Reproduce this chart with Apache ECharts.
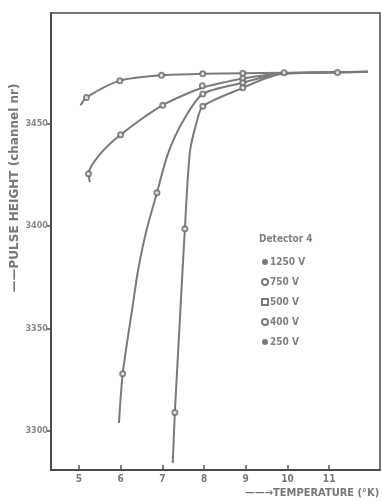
<!DOCTYPE html>
<html>
<head>
<meta charset="utf-8">
<script src="https://cdn.jsdelivr.net/npm/echarts@6/dist/echarts.min.js"></script>
<style>
html,body{margin:0;padding:0;background:#fff;}
#c{width:382px;height:502px;}
</style>
</head>
<body>
<div id="c"></div>
<script>
// Tick labels
const xTicks = [5, 6, 7, 8, 9, 10, 11];
const yTicks = [3300, 3350, 3400, 3450];
const seriesNames = ['1250 V', '750 V', '500 V', '400 V', '250 V'];

// Measured points [temperature K, pulse height]
const meas1250 = [[5.18, 3462.8], [5.98, 3471], [6.98, 3473.6], [7.97, 3474.3], [8.93, 3474.6], [9.92, 3474.8], [11.2, 3475]];
const meas750 = [[5.23, 3425.5], [6.0, 3444.6], [7.01, 3459], [7.96, 3468.5], [8.93, 3472]];
const meas500 = [[6.05, 3328], [6.87, 3416.3], [7.97, 3464.5], [8.93, 3470]];
const meas400 = [];
const meas250 = [[7.30, 3309], [7.54, 3398.7], [7.97, 3458.5], [8.93, 3467.5]];

// Drawn curve paths
const curve1250 = [[5.04, 3459], [5.18, 3462.8], [5.98, 3471], [6.98, 3473.6], [7.97, 3474.3], [8.93, 3474.6], [9.92, 3474.8], [11.2, 3475], [11.93, 3475.3]];
const curve750 = [[5.26, 3421.5], [5.23, 3425.5], [5.5, 3435], [6.0, 3444.6], [7.01, 3459], [7.96, 3467.5], [8.93, 3472], [9.5, 3473.8], [9.92, 3474.5], [11.93, 3475.3]];
const curve500 = [[5.96, 3304], [6.05, 3328], [6.3, 3362.6], [6.42, 3378.7], [6.62, 3398], [6.87, 3416.3], [7.13, 3435], [7.49, 3451], [7.97, 3464.5], [8.93, 3470], [9.5, 3473], [9.92, 3474.5], [11.93, 3475.3]];
const curve400 = [];
const curve250 = [[7.25, 3284.4], [7.30, 3309], [7.42, 3354], [7.54, 3398.7], [7.66, 3436], [7.82, 3450.5], [7.97, 3458.5], [8.93, 3467.5], [9.5, 3472.3], [9.92, 3474.5], [11.93, 3475.3]];

const curves = [curve1250, curve750, curve500, curve400, curve250];
const meas = [meas1250, meas750, meas500, meas400, meas250];
const symbols = ['circle', 'emptyCircle', 'emptyRect', 'emptyCircle', 'circle'];
const gray = '#7a7a7a';
const font = 'DejaVu Sans Condensed, DejaVu Sans, sans-serif';

const series = [];
seriesNames.forEach((n, i) => {
  series.push({
    name: n, type: 'line', data: curves[i], smooth: 0.25, showSymbol: false,
    lineStyle: { color: gray, width: 2 }, itemStyle: { color: gray }, z: 2, silent: true
  });
  series.push({
    name: n, type: 'scatter', data: meas[i], symbol: 'emptyCircle', symbolSize: 5,
    itemStyle: { color: '#6a6a6a', borderWidth: 1.5 }, z: 3
  });
});

const chart = echarts.init(document.getElementById('c'));
chart.setOption({
  backgroundColor: '#fff',
  animation: false,
  textStyle: { fontFamily: font },
  title: {
    text: 'Detector 4', left: 254, top: 229,
    textStyle: { fontSize: 10, fontWeight: 'bold', color: '#808080', fontFamily: font }
  },
  legend: {
    orient: 'vertical', left: 256, top: 252, itemGap: 10, itemWidth: 6, itemHeight: 6,
    textStyle: { fontSize: 10, fontWeight: 'bold', color: '#808080', fontFamily: font, padding: [0, 0, 0, -3] },
    data: seriesNames.map((n, i) => ({ name: n, icon: symbols[i], itemStyle: { color: gray, borderColor: gray } })),
    selectedMode: false
  },
  grid: { left: 51, right: 2, top: 13, bottom: 32, show: true, borderColor: '#4a4a4a', borderWidth: 1.5 },
  xAxis: {
    type: 'value', min: 4.33, max: 12.22,
    axisLine: { show: true, lineStyle: { color: '#4a4a4a', width: 2 } },
    axisTick: { show: true, inside: true, length: 5, customValues: xTicks, lineStyle: { color: '#555', width: 1.5 } },
    axisLabel: { customValues: xTicks, fontSize: 10, fontWeight: 'bold', color: '#777', margin: 4, fontFamily: font },
    splitLine: { show: false }
  },
  yAxis: {
    type: 'value', min: 3281, max: 3504,
    axisLine: { show: true, lineStyle: { color: '#4a4a4a', width: 2 } },
    axisTick: { show: true, inside: false, length: 4, customValues: yTicks, lineStyle: { color: '#555', width: 1.5 } },
    axisLabel: { customValues: yTicks, formatter: v => String(v), fontSize: 9, fontWeight: 'bold', color: '#888', margin: 3, fontFamily: font },
    splitLine: { show: false }
  },
  graphic: [
    {
      type: 'text', x: 15, y: 188, rotation: Math.PI / 2,
      style: { text: '——PULSE HEIGHT (channel nr)', fill: '#777',
        font: 'bold 12px DejaVu Sans, sans-serif', align: 'center', verticalAlign: 'middle' }
    },
    {
      type: 'text', x: 245, y: 493,
      style: { text: '——→TEMPERATURE (°K)', fill: '#777',
        font: 'bold 11px ' + font, align: 'left', verticalAlign: 'middle' }
    }
  ],
  series: series
});
</script>
</body>
</html>
